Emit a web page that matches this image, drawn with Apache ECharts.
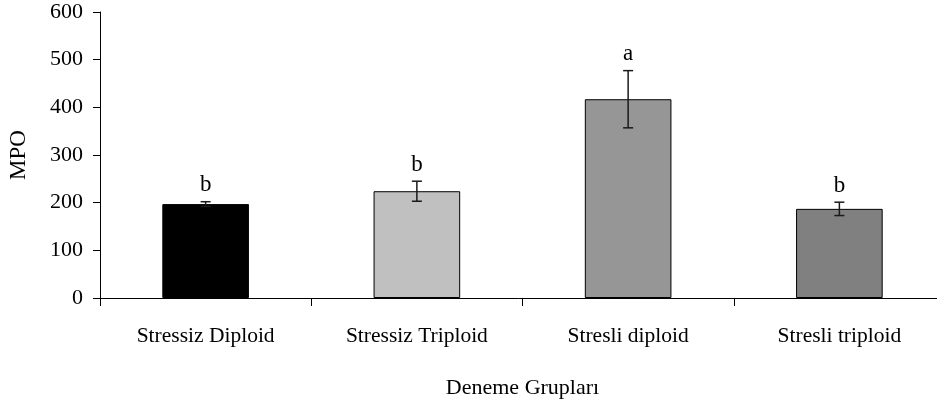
<!DOCTYPE html>
<html>
<head>
<meta charset="utf-8">
<script src="https://cdn.jsdelivr.net/npm/echarts@6/dist/echarts.min.js"></script>
<style>
  html, body { margin: 0; padding: 0; background: #fff; }
  #main { width: 937px; height: 405px; }
</style>
</head>
<body>
<div id="main"></div>
<script>
// deneme gruplari - MPO
var categories = ['Stressiz Diploid', 'Stressiz Triploid', 'Stresli diploid', 'Stresli triploid'];
var mpoValues = [197, 224, 417, 187];
var mpoErrors = [5, 21, 60, 14];
var letters = ['b', 'b', 'a', 'b'];
var barColors = ['#000000', '#c0c0c0', '#969696', '#808080'];
var yTicks = [0, 100, 200, 300, 400, 500, 600];

var font = 'Liberation Serif';

var chart = echarts.init(document.getElementById('main'), null, { renderer: 'canvas' });

var errData = [];
for (var i = 0; i < mpoValues.length; i++) {
  errData.push([i, mpoValues[i] - mpoErrors[i], mpoValues[i] + mpoErrors[i], letters[i]]);
}

var option = {
  animation: false,
  backgroundColor: '#fff',
  grid: {
    left: 100,
    top: 12,
    bottom: 107,
    width: 845,
    outerBoundsMode: 'none'
  },
  xAxis: {
    type: 'category',
    data: categories,
    name: 'Deneme Grupları',
    nameLocation: 'middle',
    nameGap: 79,
    nameTextStyle: { fontFamily: font, fontSize: 22, color: '#000' },
    axisLine: { lineStyle: { color: '#000', width: 1 } },
    axisTick: { show: true, length: 8, lineStyle: { color: '#000' } },
    axisLabel: { fontFamily: font, fontSize: 21.5, color: '#000', margin: 27 }
  },
  yAxis: {
    type: 'value',
    min: yTicks[0],
    max: yTicks[yTicks.length - 1],
    interval: 100,
    name: 'MPO',
    nameLocation: 'middle',
    nameGap: 70,
    nameTextStyle: { fontFamily: font, fontSize: 23, color: '#000' },
    splitLine: { show: false },
    axisLine: { show: true, lineStyle: { color: '#000', width: 1 } },
    axisTick: { show: true, length: 7, lineStyle: { color: '#000' } },
    axisLabel: { fontFamily: font, fontSize: 22, color: '#000', margin: 17 }
  },
  series: [{
    type: 'bar',
    barWidth: '41%',
    data: mpoValues.map(function (v, i) {
      return {
        value: v,
        itemStyle: { color: barColors[i], borderColor: '#000', borderWidth: 1 }
      };
    })
  }, {
    type: 'custom',
    z: 10,
    data: errData,
    renderItem: function (params, api) {
      var x = api.value(0);
      var lo = api.coord([x, api.value(1)]);
      var hi = api.coord([x, api.value(2)]);
      var cap = 5;
      var st = { stroke: '#1a1a1a', lineWidth: 1.5 };
      return {
        type: 'group',
        children: [
          { type: 'line', shape: { x1: lo[0], y1: lo[1], x2: hi[0], y2: hi[1] }, style: st },
          { type: 'line', shape: { x1: hi[0] - cap, y1: hi[1], x2: hi[0] + cap, y2: hi[1] }, style: st },
          { type: 'line', shape: { x1: lo[0] - cap, y1: lo[1], x2: lo[0] + cap, y2: lo[1] }, style: st },
          {
            type: 'text',
            style: {
              text: api.value(3),
              x: hi[0],
              y: hi[1] - 5,
              textAlign: 'center',
              textVerticalAlign: 'bottom',
              font: '23px "Liberation Serif"',
              fill: '#000'
            }
          }
        ]
      };
    }
  }]
};

chart.setOption(option);
</script>
</body>
</html>
